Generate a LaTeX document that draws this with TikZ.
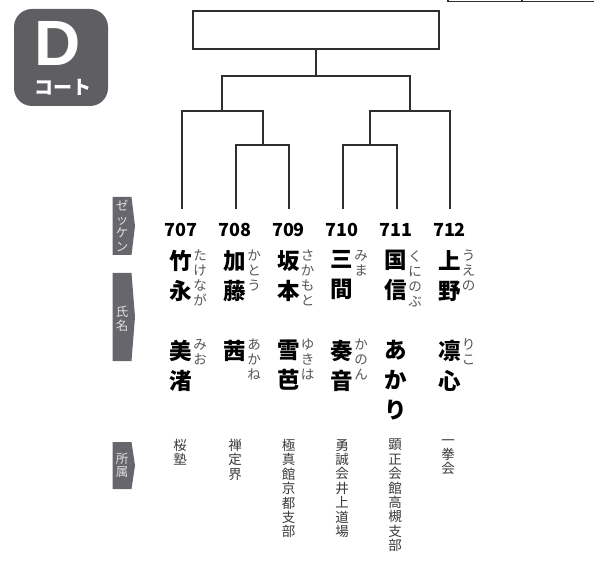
\documentclass[tikz,border=0pt]{standalone}
\usepackage{fontspec}
\setmainfont{Noto Sans CJK JP}
\newfontfamily\heros{Liberation Sans}
\definecolor{badge}{HTML}{5F5F63}
\definecolor{labelbox}{HTML}{66666C}
\definecolor{linec}{HTML}{2E2E2E}
\definecolor{rubyc}{HTML}{555555}
\definecolor{affc}{HTML}{3A3A3A}
\tikzset{
  bline/.style={draw=linec, line width=2pt, line join=miter},
  numtxt/.style={font=\fontsize{18}{18}\selectfont\bfseries, inner sep=0pt},
  nametxt/.style={font=\fontsize{22.5}{30}\selectfont\bfseries, align=center, inner sep=0pt, anchor=north},
  rubytxt/.style={font=\fontsize{13.5}{15}\selectfont, text=rubyc, align=center, inner sep=0pt, anchor=north},
  afftxt/.style={font=\fontsize{13.5}{14.4}\selectfont, text=affc, align=center, inner sep=0pt, anchor=north},
  labtxt/.style={font=\fontsize{12.5}{13.5}\selectfont, text=white!88!black, align=center, inner sep=0pt},
  labshape/.style={fill=labelbox, draw=none}
}
\begin{document}
\begin{tikzpicture}[x=1pt,y=-1pt]
\useasboundingbox (0,0) rectangle (594,585);

% badge
\node[fill=badge, rounded corners=18pt, minimum width=94pt, minimum height=97pt, inner sep=0pt] (badge) at (61,57.5) {};
\node[text=white, font=\fontsize{64}{64}\selectfont\heros\bfseries, inner sep=0pt] (dletter) at (58,43) {D};
\node[text=white, font=\fontsize{19}{19}\selectfont\bfseries, inner sep=0pt] (court) at (62.5,87) {コート};

% top-right partial box
\draw[draw=linec, line width=1.2pt] (448,-3) -- (448,1.5) -- (596,1.5);
\draw[draw=linec, line width=1.2pt] (522,-3) -- (522,1.5);

% final box
\node[draw=linec, line width=2pt, minimum width=246pt, minimum height=38.5pt, inner sep=0pt] (final) at (316,30) {};

% bracket coordinates
\coordinate (p1) at (182,209);
\coordinate (p2) at (236,209);
\coordinate (p3) at (289,209);
\coordinate (p4) at (343,209);
\coordinate (p5) at (397,209);
\coordinate (p6) at (450,209);
\coordinate (a23) at (262.5,145);
\coordinate (a45) at (369.5,145);
\coordinate (b1) at (222,111);
\coordinate (b2) at (410,111);
\coordinate (c0) at (316,76);

\draw[bline] (p2) |- (a23) -| (p3);
\draw[bline] (p4) |- (a45) -| (p5);
\draw[bline] (p1) |- (b1) -| (a23);
\draw[bline] (a45) |- (b2) -| (p6);
\draw[bline] (b1) |- (c0) -| (b2);
\draw[bline] (c0) -- (final.south);

% left labels
\fill[labshape] (112.5,197) -- (131.5,197) -- (135,226) -- (131.5,255) -- (112.5,255) -- cycle;
\node[labtxt] (lab1) at (122,226) {ゼ\\ッ\\ケ\\ン};
\fill[labshape] (112.5,273) -- (131.5,273) -- (135,317) -- (131.5,361) -- (112.5,361) -- cycle;
\node[labtxt] (lab2) at (122,319) {氏\\名};
\fill[labshape] (112.5,442) -- (131.5,442) -- (135,465.5) -- (131.5,489) -- (112.5,489) -- cycle;
\node[labtxt] (lab3) at (122,465.5) {所\\属};

% numbers
\node[numtxt] (n1) at (181,229.5) {707};
\node[numtxt] (n2) at (235,229.5) {708};
\node[numtxt] (n3) at (288.5,229.5) {709};
\node[numtxt] (n4) at (342,229.5) {710};
\node[numtxt] (n5) at (396,229.5) {711};
\node[numtxt] (n6) at (449.5,229.5) {712};

% family names
\node[nametxt] (f1) at (181,250) {竹\\永};
\node[nametxt] (f2) at (235,250) {加\\藤};
\node[nametxt] (f3) at (288.5,250) {坂\\本};
\node[nametxt] (f4) at (342,250) {三\\間};
\node[nametxt] (f5) at (396,250) {国\\信};
\node[nametxt] (f6) at (449.5,250) {上\\野};

\node[rubytxt] (fr1) at (200,250) {た\\け\\な\\が};
\node[rubytxt] (fr2) at (254,250) {か\\と\\う};
\node[rubytxt] (fr3) at (307.5,250) {さ\\か\\も\\と};
\node[rubytxt] (fr4) at (361,250) {み\\ま};
\node[rubytxt] (fr5) at (415,250) {く\\に\\の\\ぶ};
\node[rubytxt] (fr6) at (468.5,250) {う\\え\\の};

% given names
\node[nametxt] (g1) at (181,340) {美\\渚};
\node[nametxt] (g2) at (235,340) {茜};
\node[nametxt] (g3) at (288.5,340) {雪\\芭};
\node[nametxt] (g4) at (342,340) {奏\\音};
\node[nametxt] (g5) at (396,340) {あ\\か\\り};
\node[nametxt] (g6) at (449.5,340) {凛\\心};

\node[rubytxt] (gr1) at (200,339) {み\\お};
\node[rubytxt] (gr2) at (254,339) {あ\\か\\ね};
\node[rubytxt] (gr3) at (307.5,339) {ゆ\\き\\は};
\node[rubytxt] (gr4) at (361,339) {か\\の\\ん};
\node[rubytxt] (gr6) at (468.5,339) {り\\こ};

% affiliations
\node[afftxt] (af1) at (180,439) {桜\\塾};
\node[afftxt] (af2) at (235,439) {禅\\定\\界};
\node[afftxt] (af3) at (288.5,439) {極\\真\\館\\京\\都\\支\\部};
\node[afftxt] (af4) at (342,439) {勇\\誠\\会\\井\\上\\道\\場};
\node[afftxt] (af5) at (395,439) {顕\\正\\会\\館\\高\\槻\\支\\部};
\node[afftxt] (af6) at (448,439) {一\\拳\\会};
\end{tikzpicture}
\end{document}
